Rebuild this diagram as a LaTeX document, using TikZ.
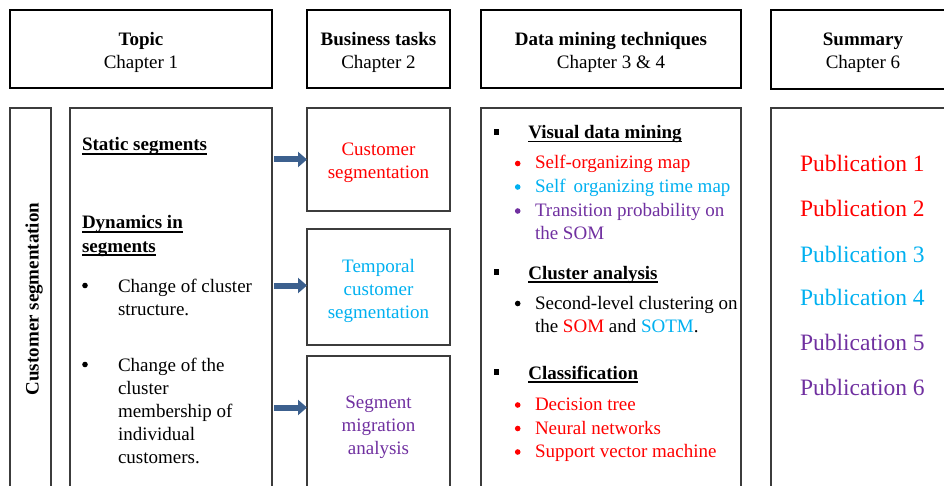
\documentclass[tikz,border=0pt]{standalone}
\usepackage{fontspec}
\setmainfont{Liberation Serif}
\usetikzlibrary{arrows.meta}

\definecolor{pubred}{RGB}{255,0,0}
\definecolor{pubcyan}{RGB}{0,176,240}
\definecolor{pubpurple}{RGB}{112,48,160}
\definecolor{arrowblue}{RGB}{60,96,142}
\definecolor{framegray}{RGB}{60,60,60}

% bold heading with an underline drawn at a fixed depth below the baseline
\newcommand\ulhead[1]{\setbox0\hbox{\bfseries #1}\rlap{\rule[-3.6pt]{\wd0}{1.4pt}}\box0}

\begin{document}
\begin{tikzpicture}[x=1pt,y=-1pt,
  every node/.style={inner sep=0pt, outer sep=0pt, font=\fontsize{19}{23}\selectfont},
  headbox/.style={draw=black, line width=1.6pt, anchor=north west},
  bodybox/.style={draw=framegray, line width=1.2pt, anchor=north west},
  txt/.style={anchor=base west},
  ctxt/.style={anchor=base},
  sqbullet/.style={fill=black, minimum width=5.5pt, minimum height=6pt},
  dotbullet/.style={circle, fill=#1, minimum size=5.6pt},
  dotbullet/.default=black,
  bigarrow/.style={draw=arrowblue, line width=6pt, -{Triangle[length=9pt,width=15pt]}, shorten <=2.3pt},
]
\clip (0,0) rectangle (944,486);

% ---------- column headers ----------
\node[headbox, minimum width=262pt, minimum height=78pt] (hTopic) at (10,10) {};
\node[headbox, minimum width=143pt, minimum height=78pt] (hBiz) at (307,10) {};
\node[headbox, minimum width=260pt, minimum height=78pt] (hDM) at (481,10) {};
\node[headbox, minimum width=190pt, minimum height=79pt] (hSum) at (771,10) {};

\node[ctxt] (hTopicA) at (141,46) {\bfseries Topic};
\node[ctxt] (hTopicB) at (141,69) {Chapter 1};
\node[ctxt] (hBizA) at (378.5,46) {\bfseries Business tasks};
\node[ctxt] (hBizB) at (378.5,69) {Chapter 2};
\node[ctxt] (hDMA) at (611,46) {\bfseries Data mining techniques};
\node[ctxt] (hDMB) at (611,69) {Chapter 3 \& 4};
\node[ctxt] (hSumA) at (863,46) {\bfseries Summary};
\node[ctxt] (hSumB) at (863,69) {Chapter 6};

% ---------- body columns ----------
\node[bodybox, minimum width=41pt, minimum height=400pt] (side) at (10,108) {};
\node[bodybox, minimum width=202pt, minimum height=400pt] (topic) at (70,108) {};
\node[bodybox, minimum width=143pt, minimum height=103pt] (biz1) at (307,108) {};
\node[bodybox, minimum width=143pt, minimum height=116pt] (biz2) at (307,229) {};
\node[bodybox, minimum width=143pt, minimum height=150pt] (biz3) at (307,356) {};
\node[bodybox, minimum width=260pt, minimum height=400pt] (dm) at (481,108) {};
\node[bodybox, minimum width=190pt, minimum height=400pt] (sum) at (771,108) {};

% vertical label
\node[rotate=90, anchor=base, font=\fontsize{19}{23}\selectfont\bfseries] (sideLabel) at (38.5,299) {Customer segmentation};

% ---------- topic column ----------
\node[txt] (tStatic) at (82,151) {\ulhead{Static segments}};
\node[txt] (tDyn1) at (82,229) {\ulhead{Dynamics in}};
\node[txt] (tDyn2) at (82,252) {\ulhead{segments}};
\node[dotbullet] (tB1) at (85,285.5) {};
\node[txt] (tC1) at (118,292) {Change of cluster};
\node[txt] (tC2) at (118,315) {structure.};
\node[dotbullet] (tB2) at (85,364.5) {};
\node[txt] (tM1) at (118,371) {Change of the};
\node[txt] (tM2) at (118,394) {cluster};
\node[txt] (tM3) at (118,417) {membership of};
\node[txt] (tM4) at (118,440) {individual};
\node[txt] (tM5) at (118,463) {customers.};

% ---------- business tasks ----------
\node[ctxt, text=pubred] (b1a) at (378.5,156) {Customer};
\node[ctxt, text=pubred] (b1b) at (378.5,179) {segmentation};
\node[ctxt, text=pubcyan] (b2a) at (378.5,272) {Temporal};
\node[ctxt, text=pubcyan] (b2b) at (378.5,295) {customer};
\node[ctxt, text=pubcyan] (b2c) at (378.5,318) {segmentation};
\node[ctxt, text=pubpurple] (b3a) at (378.5,408) {Segment};
\node[ctxt, text=pubpurple] (b3b) at (378.5,431) {migration};
\node[ctxt, text=pubpurple] (b3c) at (378.5,454) {analysis};

% arrows from topic column to business tasks
\coordinate (r1) at (0,159.5);
\coordinate (r2) at (0,285.5);
\coordinate (r3) at (0,407.5);
\draw[bigarrow] (topic.east |- r1) -- (biz1.west |- r1);
\draw[bigarrow] (topic.east |- r2) -- (biz2.west |- r2);
\draw[bigarrow] (topic.east |- r3) -- (biz3.west |- r3);

% ---------- data mining techniques ----------
\node[sqbullet] (sq1) at (496.7,132) {};
\node[txt] (dmH1) at (528.3,138.5) {\ulhead{Visual data mining}};
\node[dotbullet=pubred] (dmD1) at (517.7,163.5) {};
\node[txt, text=pubred] (dmL1) at (535,169) {Self-organizing map};
\node[dotbullet=pubcyan] (dmD2) at (517.7,187) {};
\node[txt, text=pubcyan] (dmL2) at (535,192.5) {Self\, organizing time map};
\node[dotbullet=pubpurple] (dmD3) at (517.7,211) {};
\node[txt, text=pubpurple] (dmL3) at (535,216.5) {Transition probability on};
\node[txt, text=pubpurple] (dmL4) at (535,239.5) {the SOM};

\node[sqbullet] (sq2) at (496.7,271.5) {};
\node[txt] (dmH2) at (528.3,279) {\ulhead{Cluster analysis}};
\node[dotbullet] (dmD4) at (517.7,303.5) {};
\node[txt] (dmL5) at (535,309) {Second-level clustering on};
\node[txt] (dmL6) at (535,332) {the \textcolor{pubred}{SOM} and \textcolor{pubcyan}{SOTM}.};

\node[sqbullet] (sq3) at (496.7,371.5) {};
\node[txt] (dmH3) at (528.3,379) {\ulhead{Classification}};
\node[dotbullet=pubred] (dmD5) at (517.7,405) {};
\node[txt, text=pubred] (dmL7) at (535,410.5) {Decision tree};
\node[dotbullet=pubred] (dmD6) at (517.7,428.5) {};
\node[txt, text=pubred] (dmL8) at (535,434) {Neural networks};
\node[dotbullet=pubred] (dmD7) at (517.7,452) {};
\node[txt, text=pubred] (dmL9) at (535,457.5) {Support vector machine};

% ---------- summary ----------
\foreach \i/\y/\c in {1/172/pubred, 2/217/pubred, 3/262/pubcyan, 4/305.5/pubcyan, 5/350.5/pubpurple, 6/395.5/pubpurple}
  \node[txt, text=\c, font=\fontsize{23.5}{28}\selectfont] (pub\i) at (800,\y) {Publication \i};

\end{tikzpicture}
\end{document}
